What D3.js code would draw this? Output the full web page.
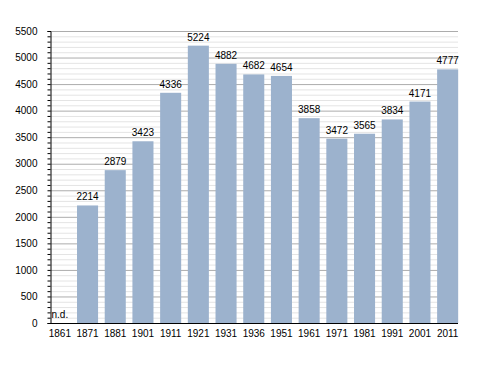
<!DOCTYPE html>
<html><head><meta charset="utf-8">
<script src="https://cdn.jsdelivr.net/npm/d3@7"></script>
<style>body{margin:0;background:#fff}svg{display:block}text{font-family:"Liberation Sans",Arial,sans-serif;font-size:10px;fill:#000}</style>
</head><body><svg id="c" width="488" height="373"></svg>
<script>
const years = ["1861","1871","1881","1901","1911","1921","1931","1936","1951","1961","1971","1981","1991","2001","2011"];
const population = [null,2214,2879,3423,4336,5224,4882,4682,4654,3858,3472,3565,3834,4171,4777];
const yTicks = [0,500,1000,1500,2000,2500,3000,3500,4000,4500,5000,5500];
const missingLabel = "n.d.";

const svg = d3.select("#c");
const x0 = 50, x1 = 458, yTop = 31, yBot = 323;
const x = d3.scaleBand().domain(years).range([46, 461.5]).paddingInner(0.24).paddingOuter(0.12);
const y = d3.scaleLinear().domain([0,5500]).range([yBot, yTop]);

// minor grid
const minor = d3.range(100, 5500, 100).filter(v => v % 500 !== 0);
svg.append("g").selectAll("line").data(minor).join("line")
  .attr("x1", x0).attr("x2", x1).attr("y1", d => y(d)+0.5).attr("y2", d => y(d)+0.5)
  .attr("stroke", "#e4e4e4").attr("stroke-width", 1);
// major grid
svg.append("g").selectAll("line").data(yTicks.filter(d => d > 0)).join("line")
  .attr("x1", x0).attr("x2", x1).attr("y1", d => y(d)+0.5).attr("y2", d => y(d)+0.5)
  .attr("stroke", "#acacac").attr("stroke-width", 1);

// bars
const data = years.map((yr,i) => ({yr, v: population[i]}));
svg.append("g").selectAll("rect").data(data.filter(d => d.v != null)).join("rect")
  .attr("x", d => x(d.yr)).attr("width", x.bandwidth())
  .attr("y", d => y(d.v)).attr("height", d => yBot - y(d.v))
  .attr("fill", "#9cb2cd");

// value labels
svg.append("g").selectAll("text").data(data.filter(d => d.v != null)).join("text")
  .attr("x", d => x(d.yr) + x.bandwidth()/2).attr("y", d => y(d.v) - 5)
  .attr("text-anchor", "middle").text(d => d.v);

// n.d.
data.filter(d => d.v == null).forEach(d => {
  svg.append("text").attr("x", x(d.yr) + x.bandwidth()/2).attr("y", yBot - 5)
    .attr("text-anchor", "middle").text(missingLabel);
});

// y axis
const yAxis = d3.axisLeft(y).tickValues(d3.range(0, 5501, 100)).tickSize(3)
  .tickFormat(d => yTicks.includes(d) ? d : "");
const ga = svg.append("g").attr("transform", `translate(${x0+0.5},0)`).call(yAxis);
ga.select(".domain").attr("stroke", "#000");
ga.selectAll(".tick line").attr("stroke", "#000");
ga.selectAll(".tick text").attr("x", -13).style("font-size", "10px").style("font-family", "'Liberation Sans',Arial,sans-serif");

// x axis
const xAxis = d3.axisBottom(x).tickSize(0).tickPadding(6);
const gx = svg.append("g").attr("transform", `translate(0,${yBot+0.5})`).call(xAxis);
gx.select(".domain").attr("d", `M${x0},0H${x1}`).attr("stroke", "#000");
gx.selectAll(".tick text").style("font-size", "10px").style("font-family", "'Liberation Sans',Arial,sans-serif");
</script></body></html>
